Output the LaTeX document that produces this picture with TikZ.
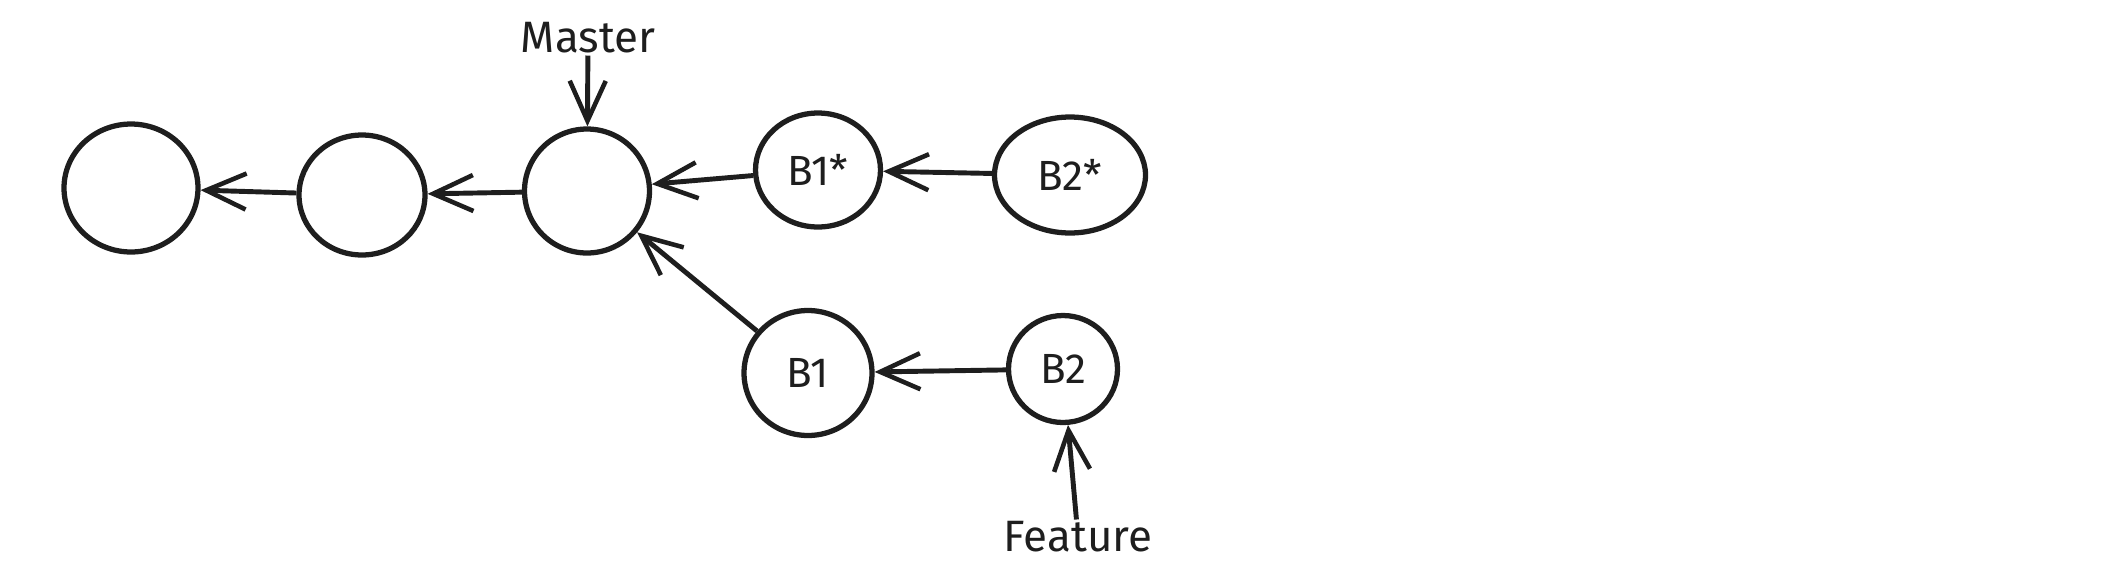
\documentclass[tikz,border=0pt]{standalone}
\usepackage{fontspec}
\setmainfont{Fira Sans}
\usepackage{tikz}
\usetikzlibrary{shapes.geometric,arrows.meta}
\definecolor{ink}{HTML}{1E1E1E}

\begin{document}
\begin{tikzpicture}[x=0.02cm,y=-0.02cm,
    commit/.style={ellipse,draw=ink,line width=3pt,inner sep=0pt,text=ink,font=\fontsize{24}{28}\selectfont},
    link/.style={draw=ink,line width=2.8pt,-{Straight Barb[length=0.8cm,width=0.72cm,line width=2.6pt]}},
    label/.style={text=ink,inner sep=1pt,font=\fontsize{25}{30}\selectfont}]
    \useasboundingbox (0,0) rectangle (2105,566);
    % master line
    \node (C1) at (131,188) [commit,minimum width=2.68cm,minimum height=2.56cm] {};
    \node (C2) at (362,195) [commit,minimum width=2.52cm,minimum height=2.40cm] {};
    \node (C3) at (587,191) [commit,minimum width=2.50cm,minimum height=2.48cm] {};
    % rebased commits
    \node (B1s) at (818,170) [commit,minimum width=2.50cm,minimum height=2.28cm] {B1*};
    \node (B2s) at (1070,175) [commit,minimum width=3.02cm,minimum height=2.32cm] {B2*};
    % feature branch
    \node (B1) at (808,373) [commit,minimum width=2.56cm,minimum height=2.50cm] {B1};
    \node (B2) at (1063,369) [commit,minimum width=2.18cm,minimum height=2.14cm] {B2};
    % branch labels
    \node (Master) at (588,38) [label] {Master};
    \node (Feature) at (1078,537) [label] {Feature};
    \draw[link] (C2) -- (C1);
    \draw[link] (C3) -- (C2);
    \draw[link] (B1s) -- (C3.6);
    \draw[link] (B2s) -- (B1s);
    \draw[link] (B1) -- (C3);
    \draw[link] (B2) -- (B1);
    \draw[link] (Master) -- (C3);
    \draw[link] (Feature) -- (B2);
  \end{tikzpicture}
\end{document}
